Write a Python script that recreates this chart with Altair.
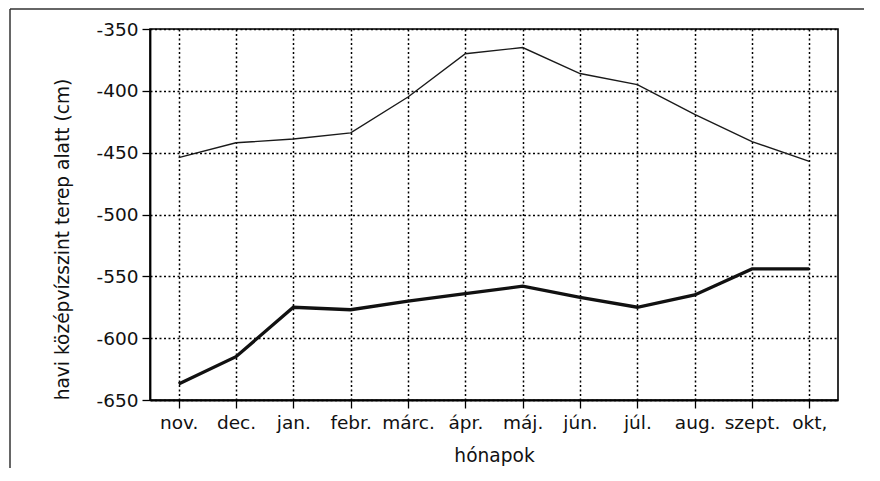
import altair as alt
import pandas as pd

months = ["nov.", "dec.", "jan.", "febr.", "márc.", "ápr.", "máj.", "jún.", "júl.", "aug.", "szept.", "okt,"]
upper = [-454, -442, -439, -434, -405, -370, -365, -386, -395, -419, -441, -457]
lower = [-637, -615, -575, -577, -570, -564, -558, -567, -575, -565, -544, -544]
y_ticks = [-650, -600, -550, -500, -450, -400, -350]

df_u = pd.DataFrame({"honap": months, "ertek": upper})
df_l = pd.DataFrame({"honap": months, "ertek": lower})

FONT = "DejaVu Sans"

x_enc = alt.X(
    "honap:N",
    sort=months,
    scale=alt.Scale(type="point", padding=0.5),
    axis=alt.Axis(
        title="hónapok",
        labelAngle=0,
        labelOverlap=False,
        labelPadding=5,
        grid=True,
        titleY=55,
        titleBaseline="middle",
    ),
)
y_enc = alt.Y(
    "ertek:Q",
    scale=alt.Scale(domain=[-650, -350], nice=False, zero=False),
    axis=alt.Axis(
        title="havi középvízszint terep alatt (cm)",
        values=y_ticks,
        labelExpr="'' + datum.value",
        labelPadding=4,
        grid=True,
        titleX=-88,
        titleY=210,
        titleBaseline="middle",
    ),
)

line_u = alt.Chart(df_u).mark_line(color="#1a1a1a", strokeWidth=1.4).encode(x=x_enc, y=y_enc)
line_l = alt.Chart(df_l).mark_line(color="#111111", strokeWidth=3.3).encode(x=x_enc, y=y_enc)

frame_data = alt.Data(values=[{"a": 1}])
frame_left = alt.Chart(frame_data).mark_rule(color="#333333", strokeWidth=1.5).encode(
    x=alt.value(-140), y=alt.value(-20), y2=alt.value(440)
)
frame_top = alt.Chart(frame_data).mark_rule(color="#333333", strokeWidth=1.5).encode(
    x=alt.value(-140), x2=alt.value(714), y=alt.value(-20)
)

chart = (
    alt.layer(frame_left, frame_top, line_u, line_l)
    .properties(
        width=688,
        height=371,
        autosize=alt.AutoSizeParams(type="none"),
        padding={"left": 142, "top": 21, "right": 34, "bottom": 68},
        background="white",
    )
    .configure_view(stroke="black", strokeWidth=1.6)
    .configure_axis(
        domainColor="black",
        domainWidth=1.8,
        tickColor="black",
        tickSize=8,
        tickWidth=1.3,
        labelFont=FONT,
        labelFontSize=18.5,
        labelColor="#111111",
        titleFont=FONT,
        titleFontSize=18.6,
        titleFontWeight="normal",
        titleColor="#111111",
        gridColor="black",
        gridDash=[2, 2.5],
        gridWidth=1.5,
        gridOpacity=1,
    )
)

chart.save("out.html", embed_options={"renderer": "svg", "actions": False})
